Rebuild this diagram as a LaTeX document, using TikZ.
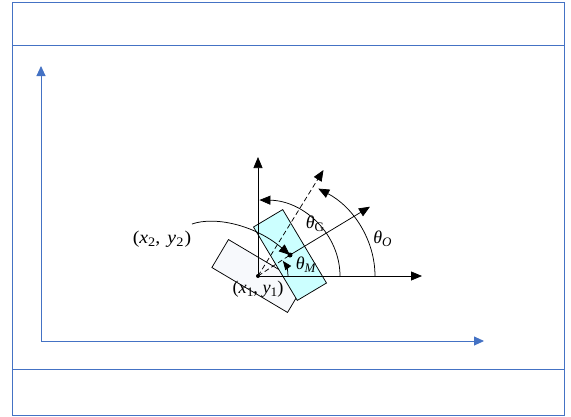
\documentclass[tikz,border=0pt]{standalone}
\usepackage{fontspec}
\setmainfont{Liberation Serif}
\usetikzlibrary{arrows.meta}
\definecolor{frameblue}{HTML}{4472C4}
\definecolor{boxcyan}{HTML}{CCFFFF}
\definecolor{boxgray}{HTML}{F7F9FC}
\newcommand{\lowsub}[1]{\raisebox{-3.5pt}{\fontsize{13}{13}\selectfont #1}}
\begin{document}
\begin{tikzpicture}[x=1pt,y=-1pt,
  frameline/.style={draw=frameblue, line width=0.9pt},
  axisline/.style={draw=frameblue, line width=0.9pt, -{Triangle[length=10pt,width=9pt]}},
  vec/.style={draw=black, line width=0.75pt, -{Triangle[length=11pt,width=9pt]}},
  vecsmall/.style={draw=black, line width=0.75pt, -{Triangle[length=9pt,width=7pt]}},
  dashline/.style={draw=black, line width=0.75pt, dash pattern=on 5pt off 3pt},
  coordlbl/.style={font=\fontsize{18}{18}\selectfont, inner sep=0pt},
  anglbl/.style={font=\fontsize{18}{18}\selectfont, inner sep=0pt},
  robot/.style={draw=black, line width=0.75pt, inner sep=0pt}]
\useasboundingbox (0,0) rectangle (571,416);
% frame
\draw[frameline] (12,2) rectangle (564,415);
\draw[frameline] (12,45) -- (564,45);
\draw[frameline] (12,369) -- (564,369);
% global axes
\coordinate (A0) at (41,341);
\coordinate (AY) at (41,66);
\coordinate (AX) at (484,341);
\draw[axisline] (A0) -- (AY);
\draw[axisline] (A0) -- (AX);
% key points
\coordinate (O) at (258,276);
\coordinate (C) at (290,255);
\coordinate (YT) at (258,157);
\coordinate (XT) at (422,276);
\coordinate (D) at (323.5,170);
\coordinate (E) at (370,206.7);
\coordinate (S) at (192,224);
% robots
\node[robot, fill=boxgray, minimum width=88pt, minimum height=32.5pt, rotate=-30.7] (rgray) at (O) {};
\node[robot, fill=boxcyan, minimum width=34pt, minimum height=85.5pt, rotate=30.8] (rcyan) at (C) {};
% local axes
\draw[vec] (O) -- (YT);
\draw[vec] (O) -- (XT);
\draw[dashline, -{Triangle[length=11pt,width=9pt]}] (O) -- (D);
\draw[dashline] (O) -- (C);
\draw[vec] (C) -- (E);
% angle arcs
\draw[vec] ([shift={(82,0)}]O) arc[start angle=0, end angle=89, x radius=82pt, y radius=76pt];
\draw[vec] ([shift={(117,0)}]O) arc[start angle=0, end angle=59, x radius=117pt, y radius=102pt];
\draw[vecsmall] ([shift={(30,0)}]O) arc[start angle=0, end angle=34, x radius=30pt, y radius=27pt];
% curved pointer
\draw[vec] (S) .. controls (215,216) and (255,225) .. (C);
% dots
\fill (O) circle[radius=2pt];
\fill (C) circle[radius=2.5pt];
% labels
\node[coordlbl] (l2) at (162,239) {\scalebox{1.1}[1]{(\textit{x}\lowsub{2},\hspace{2pt} \textit{y}\lowsub{2}\hspace{1pt})}};
\node[coordlbl] (l1) at (258,289) {\scalebox{1.02}[1]{(\textit{x}\lowsub{1}, \textit{y}\lowsub{1})}};
\node[anglbl] (tg) at (315,224) {\textit{θ}\lowsub{G}};
\node[anglbl] (to) at (382.5,239) {\textit{θ}\lowsub{\textit{O}}};
\node[anglbl] (tm) at (306,264.5) {\textit{θ}\lowsub{\textit{M}}};
\end{tikzpicture}
\end{document}
